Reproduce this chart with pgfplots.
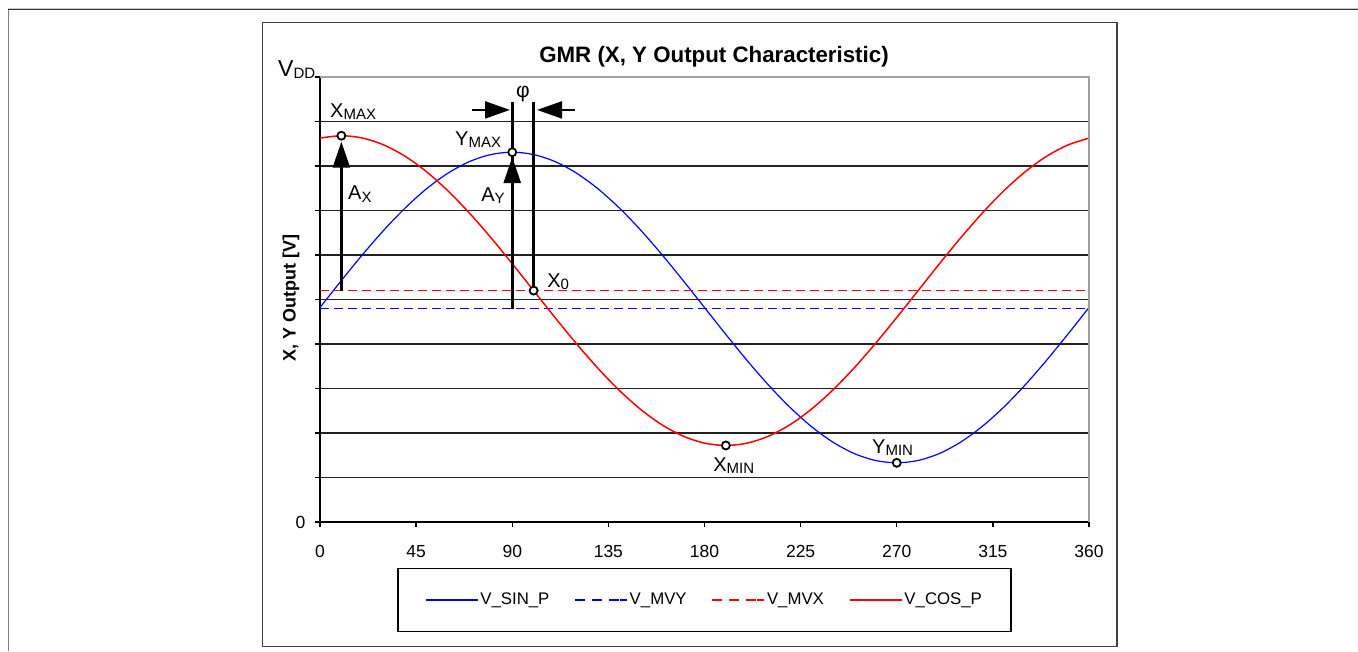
\documentclass[border=0pt]{standalone}
\usepackage{pgfplots}
\pgfplotsset{compat=1.18}
\usetikzlibrary{arrows.meta}
\usepackage{fontspec}
\setmainfont{Liberation Sans}
\newcommand\fs[1]{\fontsize{#1}{#1}\selectfont}
\newcommand\lab[2]{\fs{20}#1\raisebox{-2.5pt}{\fs{15}#2}}
\newcommand\leg[1]{\fs{16.8}#1}

\definecolor{gridc}{HTML}{222222}
\definecolor{boxc}{HTML}{404040}
\definecolor{lightc}{HTML}{A0A0A0}
\definecolor{sinc}{HTML}{0000FF}
\definecolor{cosc}{HTML}{FF0000}

\begin{document}
\begin{tikzpicture}
\path[use as bounding box] (0pt,0pt) rectangle (1358pt,651pt);

% outer frame and chart box
\draw[color=black!20, line width=0.8pt] (8pt,642.5pt) -- (1358pt,642.5pt);
\draw[color=black!80, line width=1pt] (8pt,641pt) -- (1358pt,641pt);
\draw[color=black!50, line width=1.5pt] (8.5pt,641pt) -- (8.5pt,0pt);
\draw[color=boxc, line width=1.5pt] (262.5pt,4.5pt) rectangle (1117pt,628.5pt);

\begin{axis}[
  at={(320pt,129pt)}, anchor=south west,
  scale only axis, width=769pt, height=445pt,
  xmin=0, xmax=360, ymin=0, ymax=10,
  axis lines*=left,
  axis line style={black, line width=1.3pt},
  xtick={0,45,...,360},
  ytick={0,1,...,9},
  yticklabels={0,{},{},{},{},{},{},{},{},{}},
  extra y ticks={10}, extra y tick labels={},
  extra y tick style={ymajorgrids=false},
  ymajorgrids,
  major grid style={gridc, line width=1.3pt},
  tick align=outside, major tick length=5pt,
  tick style={black, line width=1.3pt},
  /pgf/number format/assume math mode=true,
  ticklabel style={font=\fs{17.5}},
  xticklabel style={yshift=-15pt},
  yticklabel style={xshift=-6pt},
  clip=false,
  legend columns=-1,
  legend style={at={(0.5,-0.175)}, anchor=center,
    draw=black, line width=1.2pt,
    inner xsep=27pt, inner ysep=23pt,
    /tikz/every even column/.append style={column sep=23pt}},
  legend image code/.code={\draw[#1] (0pt,0pt) -- (45pt,0pt); \path (45pt,0pt) -- (52pt,0pt);},
]
\addplot[sinc, line width=1.2pt, smooth, forget plot] coordinates {
 (0,4.82) (10,5.426) (20,6.014) (30,6.565) (40,7.063) (50,7.493) (60,7.842)
 (70,8.100) (80,8.257) (90,8.31) (100,8.257) (110,8.100) (120,7.842)
 (130,7.493) (140,7.063) (150,6.565) (160,6.014) (170,5.426) (180,4.82)
 (190,4.214) (200,3.626) (210,3.075) (220,2.577) (230,2.147) (240,1.798)
 (250,1.540) (260,1.383) (270,1.33) (280,1.383) (290,1.540) (300,1.798)
 (310,2.147) (320,2.577) (330,3.075) (340,3.626) (350,4.214) (360,4.82)};
\addplot[sinc, line width=1.2pt, dash pattern=on 9pt off 5pt, forget plot] coordinates {(0,4.79) (360,4.79)};
\addplot[cosc, line width=1.3pt, dash pattern=on 9pt off 5pt, forget plot] coordinates {(0,5.2) (360,5.2)};
\addplot[cosc, line width=1.5pt, smooth, forget plot] coordinates {
 (0,8.627) (10,8.68) (20,8.627) (30,8.470) (40,8.214) (50,7.866) (60,7.437)
 (70,6.94) (80,6.390) (90,5.804) (100,5.2) (110,4.596) (120,4.010)
 (130,3.46) (140,2.963) (150,2.534) (160,2.186) (170,1.930) (180,1.773)
 (190,1.72) (200,1.773) (210,1.930) (220,2.186) (230,2.534) (240,2.963)
 (250,3.46) (260,4.010) (270,4.596) (280,5.2) (290,5.804) (300,6.390)
 (310,6.94) (320,7.437) (330,7.866) (340,8.214) (350,8.470) (360,8.627)};

\addlegendimage{draw=sinc, line width=1.3pt}
\addlegendentry{\leg{V\_SIN\_P}}
\addlegendimage{draw=sinc, line width=1.3pt, dash pattern=on 10pt off 7pt}
\addlegendentry{\leg{V\_MVY}}
\addlegendimage{draw=cosc, line width=1.3pt, dash pattern=on 10pt off 7pt}
\addlegendentry{\leg{V\_MVX}}
\addlegendimage{draw=cosc, line width=1.5pt}
\addlegendentry{\leg{V\_COS\_P}}

% amplitude and phase annotations
\draw[line width=2.6pt, -{Triangle[length=26pt,width=17pt]}] (axis cs:10,5.2) -- (axis cs:10,8.546);
\draw[line width=2.6pt] (axis cs:90,4.79) -- (axis cs:90,9.44);
\draw[line width=2.6pt, -{Triangle[length=26pt,width=17pt]}] (axis cs:90,6) -- (axis cs:90,8.20);
\draw[line width=2.6pt] (axis cs:100,5.2) -- (axis cs:100,9.44);
\draw[line width=2pt, -{Triangle[length=25pt,width=17pt]}] (axis cs:71,9.26) -- (axis cs:88.95,9.26);
\draw[line width=2pt, -{Triangle[length=25pt,width=17pt]}] (axis cs:119.4,9.26) -- (axis cs:101.6,9.26);

\addplot[only marks, mark=*, mark size=4pt, forget plot,
  mark options={fill=white, draw=black, line width=1.8pt}] coordinates {
 (10,8.68) (90,8.31) (100,5.2) (190,1.72) (270,1.33)};

\node[anchor=base west, inner sep=0pt] at (axis cs:4.68,9.10) {\lab{X}{MAX}};
\node[anchor=base west, inner sep=0pt] at (axis cs:13.1,7.236) {\lab{A}{X}};
\node[anchor=base west, inner sep=0pt] at (axis cs:63.2,8.47) {\lab{Y}{MAX}};
\node[anchor=base west, inner sep=0pt] at (axis cs:75.4,7.21) {\lab{A}{Y}};
\node[anchor=base west, inner sep=0pt] at (axis cs:106.3,5.28) {\lab{X}{0}};
\node[anchor=base west, inner sep=0pt] at (axis cs:184.0,1.146) {\lab{X}{MIN}};
\node[anchor=base west, inner sep=0pt] at (axis cs:258.4,1.55) {\lab{Y}{MIN}};
\node[anchor=center, inner sep=0pt] at (axis cs:95.0,9.62) {\fs{21}φ};
\end{axis}

% plot area top and right border
\draw[color=lightc, line width=1.5pt] (320pt,574pt) -- (1089pt,574pt) -- (1089pt,129pt);

\node[anchor=base west, inner sep=0pt] at (278pt,574pt) {\fs{23}V\raisebox{-2pt}{\fs{15}DD}};
\node[font=\bfseries\fs{22.3}, inner sep=0pt] at (714pt,594pt) {GMR (X, Y Output Characteristic)};
\node[font=\bfseries\fs{18}, rotate=90, inner sep=0pt] at (291pt,353pt) {X, Y Output [V]};
\end{tikzpicture}
\end{document}
